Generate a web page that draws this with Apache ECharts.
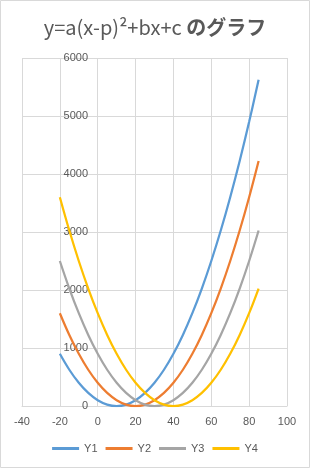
<!DOCTYPE html>
<html><head><meta charset="utf-8">
<script src="https://cdn.jsdelivr.net/npm/echarts@6/dist/echarts.min.js"></script>
<style>html,body{margin:0;padding:0;background:#fff;}#c{width:310px;height:468px;}</style>
</head><body><div id="c"></div>
<script>
var xs = [-20,-15,-10,-5,0,5,10,15,20,25,30,35,40,45,50,55,60,65,70,75,80,85];
var y1 = [900,625,400,225,100,25,0,25,100,225,400,625,900,1225,1600,2025,2500,3025,3600,4225,4900,5625];
var y2 = [1600,1225,900,625,400,225,100,25,0,25,100,225,400,625,900,1225,1600,2025,2500,3025,3600,4225];
var y3 = [2500,2025,1600,1225,900,625,400,225,100,25,0,25,100,225,400,625,900,1225,1600,2025,2500,3025];
var y4 = [3600,3025,2500,2025,1600,1225,900,625,400,225,100,25,0,25,100,225,400,625,900,1225,1600,2025];
var names = ['Y1','Y2','Y3','Y4'];
var colors = ['#5B9BD5','#ED7D31','#A5A5A5','#FFC000'];
var all = [y1,y2,y3,y4];
function pairs(ys){ return xs.map(function(x,i){return [x, ys[i]];}); }
var chart = echarts.init(document.getElementById('c'), null, {renderer:'canvas'});
var font = '"Liberation Sans", Arial, sans-serif';
var tfont = '"Noto Sans CJK JP", "Liberation Sans", sans-serif';
chart.setOption({
  animation:false,
  color: colors,
  graphic:[{type:'rect', shape:{x:0.5,y:0.5,width:309,height:467}, style:{fill:'none', stroke:'#d9d9d9', lineWidth:1}}],
  title:{text:'{a|y=a(x-p)²+bx+c }{b|のグラフ}', left:'center', top:12,
    textStyle:{fontSize:20, color:'#595959', fontFamily:tfont,
      rich:{a:{fontSize:20, fontWeight:'normal', color:'#595959', fontFamily:tfont},
            b:{fontSize:20, fontWeight:'bold', color:'#595959', fontFamily:tfont}}}},
  legend:{bottom:9, left:'center', itemWidth:27, itemHeight:3, itemGap:8, icon:'rect',
    textStyle:{color:'#595959', fontSize:11, fontFamily:font}, data:names},
  grid:{left:22, right:23, top:58, bottom:62},
  xAxis:{type:'value', min:-40, max:100, interval:20,
    axisLine:{lineStyle:{color:'#d9d9d9'}}, axisTick:{show:false},
    axisLabel:{color:'#595959', fontSize:11, fontFamily:font, margin:10},
    splitLine:{show:true, lineStyle:{color:'#d9d9d9'}}},
  yAxis:{type:'value', min:0, max:6000, interval:1000, offset:-75,
    axisLine:{show:false, onZero:false}, axisTick:{show:false},
    axisLabel:{color:'#595959', fontSize:11, fontFamily:font, margin:9, formatter:function(v){return String(v);}},
    splitLine:{show:true, lineStyle:{color:'#d9d9d9'}}},
  series: all.map(function(ys,i){
    return {name:names[i], type:'line', data:pairs(ys), smooth:0.4, showSymbol:false, symbol:'none',
      lineStyle:{width:2.25, color:colors[i]}};
  })
});
</script></body></html>
